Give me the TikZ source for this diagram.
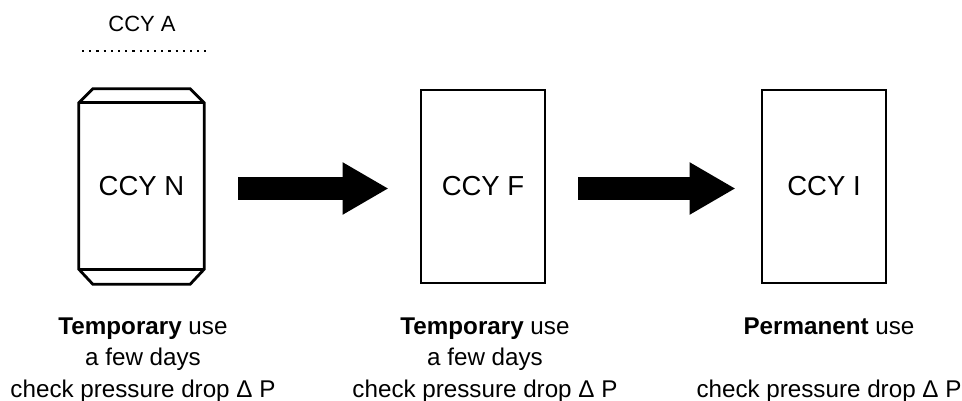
\documentclass[tikz,border=0pt]{standalone}
\usepackage{fontspec}
\setmainfont{Liberation Sans}
\usetikzlibrary{arrows.meta}
\begin{document}
\begin{tikzpicture}[x=1pt,y=-1pt,
  boxline/.style={line width=2.8pt, line join=miter},
  cbox/.style={draw=none, minimum width=124pt, minimum height=193pt, inner sep=0pt,
    font=\fontsize{27.5}{33}\selectfont},
  bigarrow/.style={line width=23pt, -{Triangle[length=46pt,width=49pt]}},
  dotline/.style={line width=2.2pt, dash pattern=on 2.2pt off 5pt},
  note/.style={align=center, anchor=base, inner sep=0pt,
    font=\fontsize{24.2}{31.5}\selectfont},
  toplabel/.style={inner sep=0pt, font=\fontsize{22}{26}\selectfont}
]
\useasboundingbox (0,0) rectangle (962,401);

% CCY N (chamfered)
\node[cbox, minimum width=125pt, minimum height=195pt] (N) at (141.5,186.5) {CCY N};
\draw[boxline]
  ([yshift=-14pt]N.north west) -- ([xshift=14pt]N.north west)
  -- ([xshift=-14pt]N.north east) -- ([yshift=-14pt]N.north east)
  -- ([yshift=15pt]N.south east) -- ([xshift=-14pt]N.south east)
  -- ([xshift=14pt]N.south west) -- ([yshift=15pt]N.south west) -- cycle;
\draw[boxline] ([yshift=-14pt]N.north west) -- ([yshift=-14pt]N.north east);
\draw[boxline] ([yshift=15pt]N.south west) -- ([yshift=15pt]N.south east);

% CCY A label and dotted line
\node[toplabel] (A) at (142,24) {CCY A};
\coordinate (dl) at (82,50.7);
\coordinate (dr) at (206,50.7);
\draw[dotline] (dl) -- (dr);

% CCY F and CCY I
\node[cbox, draw, boxline] (F) at (483,186.5) {CCY F};
\node[cbox, draw, boxline] (I) at (824,186.5) {CCY I};

% arrows
\draw[bigarrow] ([xshift=34pt,yshift=-2pt]N.east) -- ([xshift=-31pt,yshift=-2pt]F.west);
\draw[bigarrow] ([xshift=32pt,yshift=-2pt]F.east) -- ([xshift=-25pt,yshift=-2pt]I.west);

% notes
\node[note] (tN) at (143,397) {\textbf{Temporary} use\\a few days\\check pressure drop Δ P};
\node[note] (tF) at (485,397) {\textbf{Temporary} use\\a few days\\check pressure drop Δ P};
\node[note] (tI) at (829,397) {\textbf{Permanent} use\\\strut\\check pressure drop Δ P};
\end{tikzpicture}
\end{document}
